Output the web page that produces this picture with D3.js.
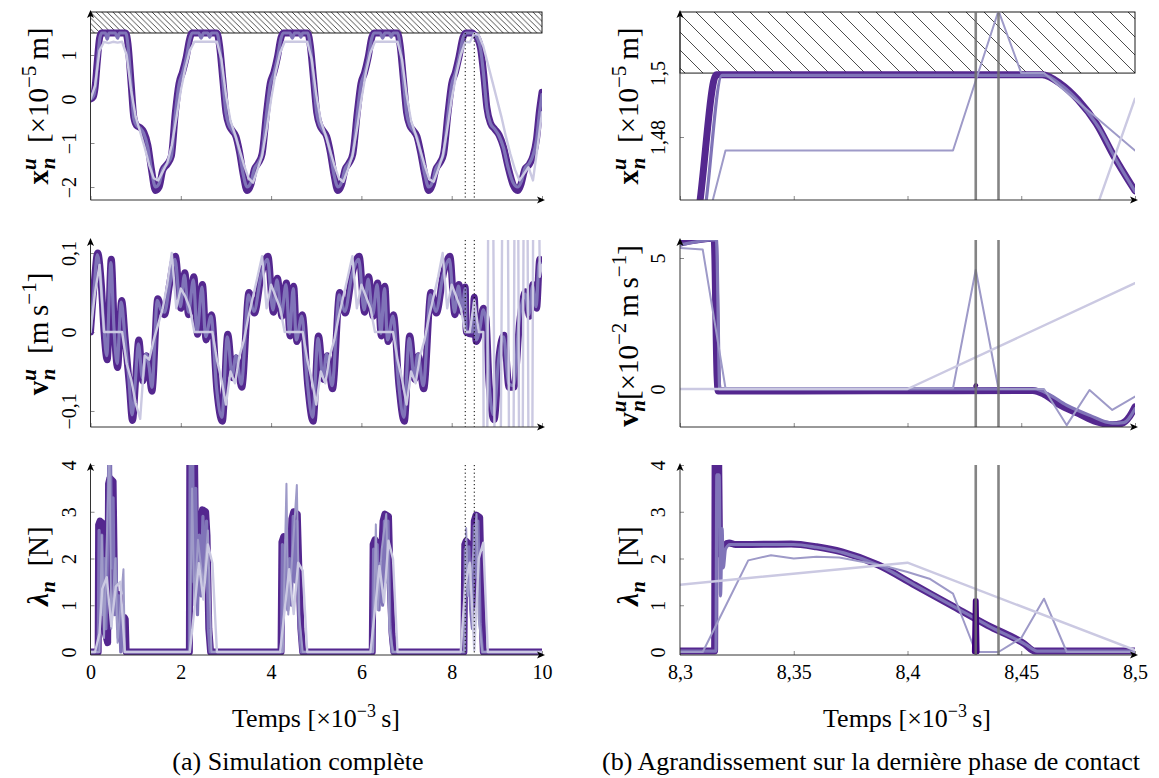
<!DOCTYPE html>
<html><head><meta charset="utf-8">
<script src="https://cdn.jsdelivr.net/npm/d3@7"></script>
<style>
body{margin:0;background:#fff}
svg{display:block}
text{font-family:"Liberation Serif","Times New Roman",serif;fill:#000}
</style>
</head><body>
<svg id="c" width="1159" height="778"></svg>
<script>
// ---------------- DATA ----------------
const ticksXLeft = [0, 2, 4, 6, 8, 10];
const ticksXRight = [8.3, 8.35, 8.4, 8.45, 8.5];
const ticksYDispL = [-2, -1, 0, 1];
const ticksYDispR = [1.48, 1.5];
const ticksYVelL = [-0.1, 0, 0.1];
const ticksYVelR = [0, 5];
const ticksYLam = [0, 1, 2, 3, 4];
const obstacleGap = 1.5;          // obstacle position (x 1e-5 m)
const zoomWindow = [8.3, 8.5];    // dotted lines on left
const stepMarks = [8.43, 8.44];   // grey lines on right

// Left: displacement (x1e-5 m)
const dispA = [[0,0],[0.06,0.05],[0.1,0.25],[0.15,0.85],[0.2,1.38],[0.24,1.5],[0.78,1.5],[0.83,1.25],[0.9,0.35],[0.96,-0.42],[1.02,-0.6],[1.1,-0.65],[1.18,-0.75],[1.27,-1.05],[1.35,-1.6],[1.44,-2.08],[1.52,-2.0],[1.6,-1.62],[1.7,-1.48],[1.79,-1.3],[1.88,-0.3],[1.96,0.35],[2.04,0.62],[2.12,0.95],[2.2,1.38],[2.25,1.5],
[2.8,1.5],[2.86,1.2],[2.93,0.45],[3.0,-0.3],[3.07,-0.6],[3.14,-0.72],[3.22,-0.85],[3.3,-1.2],[3.38,-1.7],[3.47,-2.08],[3.55,-1.95],[3.63,-1.6],[3.72,-1.45],[3.8,-1.25],[3.9,-0.3],[3.98,0.35],[4.06,0.6],[4.14,0.95],[4.22,1.4],[4.27,1.5],
[4.81,1.5],[4.87,1.2],[4.94,0.45],[5.01,-0.3],[5.08,-0.6],[5.15,-0.72],[5.23,-0.85],[5.31,-1.2],[5.39,-1.7],[5.48,-2.08],[5.56,-1.95],[5.64,-1.6],[5.73,-1.45],[5.81,-1.25],[5.91,-0.3],[5.99,0.35],[6.07,0.6],[6.15,0.95],[6.23,1.4],[6.28,1.5],
[6.8,1.5],[6.86,1.2],[6.93,0.45],[7.0,-0.3],[7.07,-0.6],[7.15,-0.72],[7.23,-0.85],[7.31,-1.2],[7.4,-1.7],[7.49,-2.08],[7.57,-1.95],[7.65,-1.6],[7.74,-1.45],[7.82,-1.25],[7.92,-0.3],[8.0,0.35],[8.08,0.6],[8.16,0.95],[8.25,1.4],[8.31,1.5],
[8.46,1.5],[8.5,1.465],[8.57,1.38],[8.64,1.15],[8.71,0.55],[8.78,-0.2],[8.86,-0.55],[8.95,-0.68],[9.05,-0.82],[9.15,-1.1],[9.25,-1.55],[9.36,-1.95],[9.46,-2.08],[9.54,-1.92],[9.62,-1.6],[9.72,-1.48],[9.8,-1.3],[9.88,-0.9],[9.94,-0.3],[10,0.15]];
const dispB = [[0,0],[0.07,0.08],[0.11,0.3],[0.16,0.9],[0.21,1.4],[0.25,1.5],[0.33,1.5],[0.37,1.36],[0.41,1.5],[0.55,1.5],[0.6,1.38],[0.64,1.5],[0.78,1.5],[0.83,1.22],[0.9,0.3],[0.96,-0.45],[1.02,-0.6],[1.1,-0.66],[1.18,-0.78],[1.27,-1.1],[1.35,-1.62],[1.44,-2.0],[1.52,-1.92],[1.6,-1.6],[1.7,-1.47],[1.79,-1.3],[1.88,-0.32],[1.96,0.33],[2.04,0.6],[2.12,0.93],[2.2,1.36],[2.25,1.5],
[2.4,1.5],[2.45,1.38],[2.5,1.5],[2.6,1.5],[2.64,1.4],[2.68,1.5],[2.8,1.5],[2.86,1.18],[2.93,0.42],[3.0,-0.32],[3.07,-0.6],[3.14,-0.72],[3.22,-0.87],[3.3,-1.22],[3.38,-1.7],[3.47,-2.0],[3.55,-1.9],[3.63,-1.58],[3.72,-1.44],[3.8,-1.24],[3.9,-0.32],[3.98,0.33],[4.06,0.58],[4.14,0.93],[4.22,1.38],[4.27,1.5],
[4.42,1.5],[4.47,1.38],[4.52,1.5],[4.62,1.5],[4.66,1.4],[4.7,1.5],[4.81,1.5],[4.87,1.18],[4.94,0.42],[5.01,-0.32],[5.08,-0.6],[5.15,-0.72],[5.23,-0.87],[5.31,-1.22],[5.39,-1.7],[5.48,-2.0],[5.56,-1.9],[5.64,-1.58],[5.73,-1.44],[5.81,-1.24],[5.91,-0.32],[5.99,0.33],[6.07,0.58],[6.15,0.93],[6.23,1.38],[6.28,1.5],
[6.42,1.5],[6.47,1.38],[6.52,1.5],[6.62,1.5],[6.66,1.4],[6.7,1.5],[6.8,1.5],[6.86,1.18],[6.93,0.42],[7.0,-0.32],[7.07,-0.6],[7.15,-0.72],[7.23,-0.87],[7.31,-1.22],[7.4,-1.7],[7.49,-2.0],[7.57,-1.9],[7.65,-1.58],[7.74,-1.44],[7.82,-1.24],[7.92,-0.32],[8.0,0.33],[8.08,0.58],[8.16,0.93],[8.25,1.38],[8.31,1.5],
[8.46,1.5],[8.5,1.46],[8.57,1.37],[8.64,1.13],[8.71,0.52],[8.78,-0.22],[8.86,-0.56],[8.95,-0.68],[9.05,-0.84],[9.15,-1.12],[9.25,-1.56],[9.36,-1.9],[9.46,-2.0],[9.54,-1.88],[9.62,-1.58],[9.72,-1.46],[9.8,-1.28],[9.88,-0.92],[9.94,-0.35],[10,0.1]];
const dispD = [[0,0],[0.1,0.3],[0.2,1.1],[0.3,1.3],[0.4,1.27],[0.5,1.3],[0.6,1.28],[0.7,1.3],[0.8,1.0],[0.9,0.2],[1.0,-0.4],[1.1,-0.75],[1.2,-1.1],[1.3,-1.5],[1.4,-1.8],[1.5,-1.85],[1.6,-1.65],[1.7,-1.45],[1.8,-1.05],[1.9,-0.45],[2.0,0.2],[2.1,0.7],[2.2,1.1],[2.3,1.3],[2.8,1.3],[2.9,0.9],[3.0,0.1],[3.1,-0.5],[3.2,-0.8],[3.3,-1.15],[3.4,-1.5],[3.5,-1.8],[3.6,-1.9],[3.7,-1.6],[3.8,-1.3],[3.9,-0.7],[4.0,0.0],[4.1,0.6],[4.2,1.05],[4.3,1.3],[4.8,1.3],[4.9,0.9],[5.0,0.1],[5.1,-0.5],[5.2,-0.8],[5.3,-1.15],[5.4,-1.5],[5.5,-1.8],[5.6,-1.88],[5.7,-1.6],[5.8,-1.3],[5.9,-0.7],[6.0,0.0],[6.1,0.6],[6.2,1.05],[6.3,1.3],[6.8,1.3],[6.9,0.9],[7.0,0.1],[7.1,-0.5],[7.2,-0.8],[7.3,-1.15],[7.4,-1.5],[7.5,-1.82],[7.6,-1.88],[7.7,-1.6],[7.8,-1.3],[7.9,-0.7],[8.0,0.0],[8.1,0.55],[8.2,1.0],[8.3,1.3],[8.4,1.29],[8.5,1.49],[8.6,1.45],[8.7,1.2],[8.8,0.8],[8.9,0.4],[9.0,0.0],[9.1,-0.4],[9.2,-0.85],[9.3,-1.25],[9.4,-1.6],[9.5,-1.85],[9.6,-1.7],[9.7,-1.55],[9.8,-1.85],[9.9,-1.1],[10,-0.3]];

// Left: velocity (m/s)
const velA = [[0,0],[0.08,0.06],[0.16,0.1],[0.24,0.06],[0.3,0.0],[0.37,-0.035],[0.46,0.092],[0.53,0.0],[0.6,-0.045],[0.69,0.04],[0.77,-0.01],[0.86,-0.067],[0.93,-0.112],[1.0,-0.06],[1.07,-0.01],[1.16,-0.062],[1.24,-0.03],[1.3,-0.05],[1.36,-0.075],[1.49,0.042],[1.56,0.03],[1.64,0.022],[1.75,0.06],[1.88,0.096],
[2.0,0.03],[2.09,0.075],[2.17,0.022],[2.29,0.07],[2.37,-0.003],[2.48,0.06],[2.56,-0.01],[2.68,0.022],[2.8,-0.075],[2.92,-0.113],[3.04,-0.003],[3.15,-0.058],[3.23,-0.033],[3.35,-0.07],[3.51,0.05],[3.63,0.024],[3.79,0.075],[3.93,0.096],
[4.05,0.025],[4.14,0.068],[4.24,0.02],[4.34,0.062],[4.42,-0.005],[4.5,0.058],[4.57,-0.012],[4.69,0.022],[4.81,-0.067],[4.93,-0.113],[5.05,-0.005],[5.16,-0.06],[5.24,-0.03],[5.36,-0.072],[5.52,0.05],[5.64,0.024],[5.8,0.075],[5.95,0.096],
[6.07,0.025],[6.16,0.07],[6.26,0.02],[6.36,0.062],[6.44,-0.005],[6.52,0.058],[6.59,-0.012],[6.71,0.022],[6.83,-0.067],[6.95,-0.113],[7.07,-0.005],[7.18,-0.06],[7.26,-0.03],[7.38,-0.072],[7.54,0.05],[7.66,0.024],[7.82,0.075],[7.96,0.096],
[8.07,0.022],[8.16,0.06],[8.24,0.025],[8.3,0.057],[8.32,0.0],[8.46,-0.003],[8.5,0.044],[8.54,-0.012],[8.62,0.0],[8.7,0.03],[8.76,0.017],[8.83,-0.067],[8.94,-0.111],[9.05,-0.03],[9.16,-0.004],[9.27,-0.07],[9.38,-0.07],[9.5,0.01],[9.64,0.051],[9.72,0.02],[9.8,0.06],[9.88,0.03],[9.95,0.092],[10,0.085]];
const velB = [[0,0],[0.08,0.055],[0.15,0.098],[0.22,0.07],[0.29,0.01],[0.36,-0.03],[0.45,0.088],[0.52,0.005],[0.59,-0.04],[0.68,0.038],[0.76,-0.005],[0.85,-0.06],[0.92,-0.105],[0.99,-0.065],[1.06,-0.015],[1.15,-0.058],[1.23,-0.028],[1.3,-0.045],[1.36,-0.07],[1.48,0.04],[1.56,0.028],[1.64,0.025],[1.75,0.058],[1.87,0.092],
[1.99,0.032],[2.08,0.072],[2.17,0.025],[2.28,0.066],[2.36,0.0],[2.47,0.057],[2.55,-0.006],[2.67,0.02],[2.79,-0.07],[2.91,-0.108],[3.03,-0.006],[3.14,-0.055],[3.22,-0.03],[3.34,-0.066],[3.5,0.047],[3.62,0.026],[3.78,0.072],[3.92,0.092],
[4.04,0.028],[4.13,0.066],[4.23,0.022],[4.33,0.06],[4.41,-0.002],[4.49,0.055],[4.56,-0.01],[4.68,0.02],[4.8,-0.063],[4.92,-0.108],[5.04,-0.008],[5.15,-0.057],[5.23,-0.028],[5.35,-0.068],[5.51,0.047],[5.63,0.026],[5.79,0.072],[5.94,0.092],
[6.06,0.028],[6.15,0.067],[6.25,0.022],[6.35,0.06],[6.43,-0.002],[6.51,0.055],[6.58,-0.01],[6.7,0.02],[6.82,-0.063],[6.94,-0.108],[7.06,-0.008],[7.17,-0.057],[7.25,-0.028],[7.37,-0.068],[7.53,0.047],[7.65,0.026],[7.81,0.072],[7.95,0.092],
[8.06,0.025],[8.15,0.058],[8.23,0.028],[8.3,0.055],[8.32,0.0],[8.46,0.0],[8.5,0.04],[8.54,-0.01],[8.62,0.003],[8.7,0.028],[8.77,0.01],[8.84,-0.075],[8.93,-0.105],[9.04,-0.035],[9.15,-0.006],[9.26,-0.065],[9.37,-0.068],[9.49,0.012],[9.63,0.048],[9.71,0.022],[9.79,0.058],[9.87,0.032],[9.94,0.088],[10,0.083]];
const velD = [[0,0],[0.1,0.05],[0.2,0.085],[0.3,0.0],[0.4,0.0],[0.5,0.0],[0.6,0.0],[0.7,0.0],[0.8,-0.04],[0.9,-0.06],[1.0,-0.09],[1.1,-0.11],[1.2,-0.03],[1.3,-0.035],[1.4,-0.01],[1.5,0.01],[1.6,0.03],[1.7,0.06],[1.8,0.1],[1.9,0.03],[2.0,0.055],[2.1,0.045],[2.2,0.03],[2.3,0.0],[2.7,0.0],[2.8,-0.035],[2.9,-0.06],[3.0,-0.092],[3.1,-0.05],[3.2,-0.065],[3.3,-0.03],[3.4,-0.01],[3.5,0.02],[3.6,0.045],[3.7,0.07],[3.8,0.096],[3.9,0.03],[4.0,0.06],[4.1,0.045],[4.2,0.03],[4.3,0.0],[4.7,0.0],[4.8,-0.035],[4.9,-0.06],[5.0,-0.092],[5.1,-0.05],[5.2,-0.065],[5.3,-0.03],[5.4,-0.01],[5.5,0.02],[5.6,0.045],[5.7,0.07],[5.8,0.096],[5.9,0.03],[6.0,0.06],[6.1,0.045],[6.2,0.03],[6.3,0.0],[6.7,0.0],[6.8,-0.035],[6.9,-0.06],[7.0,-0.092],[7.1,-0.05],[7.2,-0.065],[7.3,-0.03],[7.4,-0.01],[7.5,0.02],[7.6,0.045],[7.7,0.07],[7.8,0.1],[7.9,0.03],[8.0,0.06],[8.1,0.045],[8.2,0.03],[8.3,0.0],[8.4,0.0],[8.5,0.04],[8.6,0.0],[8.7,0.0],[8.74,-0.8],[8.855,0.8],[9.015,-0.8],[9.19,0.8],[9.325,-0.8],[9.435,0.8],[9.53,-0.8],[9.635,0.8],[9.745,-0.8],[9.845,0.8],[9.95,0.07],[10,0.085]];

// Left: contact force (N)
const lamA = [[0,0],[0.17,0],[0.18,2.72],[0.21,2.8],[0.27,2.75],[0.3,1.3],[0.33,0.4],[0.38,0.2],[0.4,3.6],[0.43,3.72],[0.5,3.65],[0.53,1.5],[0.56,1.1],[0.6,1.24],[0.64,1.2],[0.66,0.3],[0.72,0.2],[0.75,0.74],[0.77,0.7],[0.79,0],
[2.19,0],[2.2,4.5],[2.3,4.5],[2.33,2.0],[2.4,1.5],[2.45,2.9],[2.48,3.04],[2.55,3.0],[2.58,2.5],[2.62,0.5],[2.66,0],
[4.22,0],[4.24,2.35],[4.28,2.47],[4.34,2.4],[4.38,1.6],[4.42,1.8],[4.46,2.85],[4.5,3.0],[4.58,2.95],[4.62,1.6],[4.66,0.5],[4.7,0],
[6.24,0],[6.26,2.3],[6.3,2.4],[6.36,2.3],[6.4,1.7],[6.44,1.9],[6.48,2.8],[6.52,2.95],[6.6,2.9],[6.64,1.4],[6.68,0.4],[6.72,0],
[8.27,0],[8.29,2.3],[8.32,2.37],[8.38,2.3],[8.43,1.7],[8.47,1.0],[8.5,2.8],[8.54,2.93],[8.62,2.88],[8.66,1.2],[8.7,0],[10,0]];
const lamB = [[0,0],[0.17,0],[0.19,2.6],[0.22,1.5],[0.25,2.5],[0.28,0.8],[0.31,2.0],[0.34,0.5],[0.37,1.8],[0.41,4.5],[0.44,4.5],[0.47,1.8],[0.5,3.3],[0.53,0.8],[0.56,2.0],[0.6,0.5],[0.63,1.2],[0.67,0],[0.71,1.0],[0.75,0],
[2.19,0],[2.21,4.5],[2.26,4.5],[2.29,1.5],[2.33,3.5],[2.37,0.8],[2.41,2.5],[2.45,1.2],[2.49,2.9],[2.53,1.5],[2.57,2.8],[2.61,0.5],[2.65,0],
[4.23,0],[4.25,2.3],[4.29,1.2],[4.33,2.4],[4.37,0.9],[4.41,2.0],[4.45,1.0],[4.49,2.9],[4.53,1.5],[4.57,2.8],[4.62,0.6],[4.67,0],
[6.25,0],[6.27,2.2],[6.31,1.2],[6.35,2.3],[6.39,0.9],[6.43,1.9],[6.47,1.0],[6.51,2.8],[6.55,1.5],[6.59,2.8],[6.63,0.6],[6.68,0],
[8.28,0],[8.3,2.2],[8.34,1.3],[8.38,2.25],[8.42,0.9],[8.46,0.5],[8.5,2.7],[8.54,1.6],[8.58,2.8],[8.63,0.6],[8.68,0],[10,0]];
const lamC = [[0,0],[0.2,0],[0.25,2.5],[0.3,0.3],[0.42,4.4],[0.46,0.5],[0.55,2.0],[0.6,0.2],[0.73,1.77],[0.76,0],
[2.2,0],[2.25,3.5],[2.3,1.0],[2.38,2.4],[2.5,1.4],[2.6,2.6],[2.68,0],
[4.26,0],[4.34,3.6],[4.38,0.8],[4.48,2.2],[4.57,3.57],[4.62,0.8],[4.7,0],
[6.26,0],[6.32,2.73],[6.36,0.9],[6.45,2.2],[6.55,2.95],[6.62,0.5],[6.7,0],
[8.28,0],[8.32,2.65],[8.36,1.2],[8.45,1.8],[8.55,2.95],[8.6,0.7],[8.68,0],[10,0]];
const lamD = [[0,0],[0.1,0],[0.2,0.4],[0.26,1.35],[0.36,1.6],[0.46,0.55],[0.56,1.4],[0.66,1.5],[0.76,0],
[2.2,0],[2.3,0.9],[2.4,1.9],[2.5,1.12],[2.6,2.3],[2.7,1.9],[2.8,0],
[4.2,0],[4.3,0.9],[4.4,1.77],[4.5,0.81],[4.6,1.91],[4.7,1.74],[4.8,0],
[6.2,0],[6.3,0.9],[6.4,1.84],[6.5,1.06],[6.6,2.38],[6.7,1.99],[6.8,0],
[8.2,0],[8.3,1.44],[8.4,1.91],[8.5,0.04],[8.6,2.0],[8.7,2.34],[8.8,0],[10,0]];

// Right (zoom 8.3 - 8.5 ms): displacement (x1e-5 m)
const zDispA = [[8.3,1.411],[8.3088,1.46],[8.316,1.4995],[8.4592,1.4995],[8.467,1.4968],[8.475,1.4916],[8.483,1.4842],[8.491,1.4737],[8.5,1.4632]];
const zDispB = [[8.3,1.40],[8.3115,1.46],[8.3184,1.4993],[8.46,1.4993],[8.468,1.496],[8.476,1.4905],[8.484,1.483],[8.492,1.4725],[8.5,1.463]];
const zDispC = [[8.3,1.42],[8.31,1.448],[8.32,1.4758],[8.42,1.4758],[8.44,1.5195],[8.45,1.5],[8.46,1.5],[8.5,1.4758]];
const zDispD = [[8.4,1.29],[8.5,1.492]];
// Right: velocity (x1e-2 m/s)
const zVelA = [[8.3,5.57],[8.315,5.75],[8.3163,0.5],[8.3168,-0.08],[8.455,-0.06],[8.46,-0.2],[8.467,-0.61],[8.475,-0.93],[8.483,-1.25],[8.49,-1.36],[8.494,-1.32],[8.4976,-1.05],[8.5,-0.68]];
const zVelB = [[8.3,5.5],[8.316,5.7],[8.3175,0.0],[8.456,0.0],[8.462,-0.2],[8.47,-0.62],[8.48,-1.0],[8.49,-1.3],[8.495,-1.28],[8.5,-0.75]];
const zVelC = [[8.3,5.38],[8.31,5.32],[8.32,0.03],[8.42,0.03],[8.43,4.55],[8.44,0.0],[8.45,0.0],[8.46,0.0],[8.47,-1.38],[8.48,-0.04],[8.49,-0.8],[8.5,-0.29]];
const zVelD = [[8.3,0],[8.4,0],[8.5,4.04]];
const zVelE = [[8.4299,0.12],[8.4301,0.14]];
// Right: contact force (N)
const zLamA = [[8.3,0.02],[8.3152,0.02],[8.3155,4.6],[8.3168,4.6],[8.3175,2.1],[8.3195,2.28],[8.3216,2.33],[8.3245,2.3],[8.33,2.3],[8.3488,2.31],[8.36,2.25],[8.3712,2.14],[8.3872,1.86],[8.4032,1.43],[8.4192,1.0],[8.4352,0.57],[8.4512,0.18],[8.456,0.02],[8.5,0.02]];
const zLamB = [[8.3,0.02],[8.3158,0.02],[8.3162,3.79],[8.3172,3.79],[8.3178,1.2],[8.3185,2.64],[8.319,1.8],[8.32,2.2],[8.322,2.3],[8.33,2.3],[8.35,2.3],[8.36,2.24],[8.372,2.12],[8.388,1.84],[8.404,1.41],[8.42,0.98],[8.436,0.55],[8.452,0.16],[8.457,0.02],[8.5,0.02]];
const zLamC = [[8.3,0],[8.31,0],[8.32,0.98],[8.33,1.96],[8.34,2.07],[8.35,2.0],[8.36,2.04],[8.37,2.02],[8.38,1.93],[8.39,1.84],[8.4,1.71],[8.41,1.56],[8.42,1.25],[8.43,0],[8.44,0],[8.45,0.3],[8.46,1.14],[8.47,0],[8.5,0]];
const zLamD = [[8.3,1.44],[8.4,1.91],[8.5,0.04]];
const zLamE = [[8.4293,0],[8.4297,1.1],[8.4303,1.1],[8.4307,0]];

// ---------------- STYLE ----------------
const COL = {A:"#54278f", B:"#8074b8", C:"#9e9ac8", D:"#cbc9e2", E:"#3f007d"};
const WID = {A:7, B:3.2, C:2, D:2.4, E:4.5};

// ---------------- DRAW ----------------
const svg = d3.select("#c");
const defs = svg.append("defs");
const fmt = d3.formatLocale({decimal:",", thousands:"\u00a0", grouping:[3], currency:["",""], minus:"\u2212"}).format("~g");

function hatch(id, s){
  const p = defs.append("pattern").attr("id",id).attr("patternUnits","userSpaceOnUse").attr("width",s).attr("height",s);
  p.append("path").attr("d",`M-1,-1L${s+1},${s+1}`).attr("stroke","#000").attr("stroke-width",0.7);
}
hatch("hatchL", 5.6);
hatch("hatchR", 18);

const xL = d3.scaleLinear().domain([0,10]).range([90.5,542]);
const xR = d3.scaleLinear().domain([8.3,8.5]).range([680,1135]);
const rows = [{top:12,bot:200},{top:240,bot:427},{top:465,bot:655}];
const yL0 = d3.scaleLinear().domain([-2.295,1.977]).range([200,12]);
const yR0 = d3.scaleLinear().domain([1.4603,1.5191]).range([200,12]);
const yL1 = d3.scaleLinear().domain([-0.1203,0.1165]).range([427,240]);
const yR1 = d3.scaleLinear().domain([-1.45,5.687]).range([427,240]);
const yL2 = d3.scaleLinear().domain([-0.064,4]).range([655,465]);
const yR2 = yL2.copy();

let clipN = 0;
function panel(o){
  const x=o.x, y=o.y, top=o.row.top, bot=o.row.bot;
  const x0=x.range()[0], x1=x.range()[1];
  const g = svg.append("g");
  const cid = "clip"+(clipN++);
  defs.append("clipPath").attr("id",cid).append("rect").attr("x",x0).attr("y",top).attr("width",x1-x0).attr("height",bot-top);
  if(o.hatch){
    g.append("rect").attr("x",x0).attr("y",top).attr("width",x1-x0).attr("height",y(obstacleGap)-top)
     .attr("fill",`url(#${o.hatch})`).attr("stroke","#000").attr("stroke-width",0.9);
  }
  const ax = g.append("g").attr("transform",`translate(0,${bot})`)
    .call(d3.axisBottom(x).tickValues(o.xticks).tickSizeInner(-4).tickSizeOuter(0).tickFormat(o.showX?fmt:()=>""));
  ax.select(".domain").remove();
  ax.selectAll("line").attr("stroke","#8a8a8a");
  ax.attr("font-family",null).attr("font-size",null);
  ax.selectAll("text").attr("y",10).attr("dy","0.72em").attr("font-size",20);
  const ay = g.append("g").attr("transform",`translate(${x0},0)`)
    .call(d3.axisLeft(y).tickValues(o.yticks).tickSizeInner(-4).tickSizeOuter(0).tickFormat(fmt));
  ay.select(".domain").remove();
  ay.selectAll("line").attr("stroke","#8a8a8a");
  ay.attr("font-family",null).attr("font-size",null);
  ay.selectAll("text").attr("x",null).attr("dy",null).attr("y",null)
    .attr("transform","translate(-15,0) rotate(-90)").attr("text-anchor","middle").attr("font-size",20);
  const lg = g.append("g").attr("clip-path",`url(#${cid})`);
  o.series.forEach(s=>{
    lg.append("path").datum(s.data)
      .attr("d", d3.line().x(d=>x(d[0])).y(d=>y(d[1])).curve(s.curve||d3.curveLinear))
      .attr("fill","none").attr("stroke",COL[s.k]).attr("stroke-width",WID[s.k])
      .attr("stroke-linejoin","round").attr("stroke-linecap","round");
  });
  (o.dotted||[]).forEach(t=>{
    g.append("line").attr("x1",x(t)).attr("x2",x(t)).attr("y1",o.hatch?y(obstacleGap):top).attr("y2",bot)
      .attr("stroke","#000").attr("stroke-width",1).attr("stroke-dasharray","1.2,2.6");
  });
  (o.grey||[]).forEach(t=>{
    g.append("line").attr("x1",x(t)).attr("x2",x(t)).attr("y1",top).attr("y2",bot)
      .attr("stroke","#6e6e6e").attr("stroke-opacity",0.85).attr("stroke-width",2.6);
  });
  g.append("line").attr("x1",x0).attr("x2",x1).attr("y1",bot).attr("y2",bot).attr("stroke","#333").attr("stroke-width",1);
  g.append("line").attr("x1",x0).attr("x2",x0).attr("y1",bot).attr("y2",top).attr("stroke","#333").attr("stroke-width",1);
  g.append("path").attr("d",`M${x1+3},${bot}L${x1-5},${bot-3.5}L${x1-3},${bot}L${x1-5},${bot+3.5}Z`).attr("fill","#000");
  g.append("path").attr("d",`M${x0},${top-2}L${x0-3.5},${top+6}L${x0},${top+4}L${x0+3.5},${top+6}Z`).attr("fill","#000");
}

const left = [
  {row:rows[0], y:yL0, yticks:ticksYDispL, hatch:"hatchL", series:[{k:"A",data:dispA,curve:d3.curveMonotoneX},{k:"B",data:dispB,curve:d3.curveMonotoneX},{k:"D",data:dispD}]},
  {row:rows[1], y:yL1, yticks:ticksYVelL, series:[{k:"A",data:velA,curve:d3.curveMonotoneX},{k:"B",data:velB,curve:d3.curveMonotoneX},{k:"D",data:velD}]},
  {row:rows[2], y:yL2, yticks:ticksYLam, showX:true, series:[{k:"A",data:lamA},{k:"B",data:lamB},{k:"C",data:lamC},{k:"D",data:lamD}]}
];
left.forEach(o=>panel(Object.assign({x:xL, xticks:ticksXLeft, dotted:zoomWindow}, o)));

const right = [
  {row:rows[0], y:yR0, yticks:ticksYDispR, hatch:"hatchR", series:[{k:"A",data:zDispA,curve:d3.curveMonotoneX},{k:"B",data:zDispB,curve:d3.curveMonotoneX},{k:"C",data:zDispC},{k:"D",data:zDispD}]},
  {row:rows[1], y:yR1, yticks:ticksYVelR, series:[{k:"A",data:zVelA,curve:d3.curveMonotoneX},{k:"B",data:zVelB,curve:d3.curveMonotoneX},{k:"C",data:zVelC},{k:"D",data:zVelD},{k:"E",data:zVelE}]},
  {row:rows[2], y:yR2, yticks:ticksYLam, showX:true, series:[{k:"A",data:zLamA,curve:d3.curveMonotoneX},{k:"B",data:zLamB,curve:d3.curveMonotoneX},{k:"C",data:zLamC},{k:"D",data:zLamD},{k:"E",data:zLamE}]}
];
right.forEach(o=>panel(Object.assign({x:xR, xticks:ticksXRight, grey:stepMarks}, o)));

// -------- titles --------
function addParts(t, parts){
  parts.forEach(p=>{
    const s = t.append("tspan").text(p.t);
    if(p.b) s.attr("font-weight","bold");
    if(p.i) s.attr("font-style","italic");
    if(p.fs) s.attr("font-size",p.fs);
    if(p.dx!=null) s.attr("dx",p.dx);
    if(p.dy!=null) s.attr("dy",p.dy);
  });
}
function rtext(cx, cy, parts, size){
  const t = svg.append("text").attr("transform",`translate(${cx},${cy}) rotate(-90)`).attr("text-anchor","middle").attr("font-size",size);
  addParts(t, parts); return t;
}
function htext(cx, cy, parts, size){
  const t = svg.append("text").attr("x",cx).attr("y",cy).attr("text-anchor","middle").attr("font-size",size);
  addParts(t, parts); return t;
}
const xTitle = [{t:"x",b:1},{t:"u",b:1,i:1,fs:21,dy:-12},{t:"n",b:1,i:1,fs:21,dx:-11,dy:19},{t:"\u2002[\u00d710",dy:-7},{t:"\u22125",fs:21,dy:-12},{t:"\u2009m]",dy:12}];
const vTitleL = [{t:"v",b:1},{t:"u",b:1,i:1,fs:21,dy:-12},{t:"n",b:1,i:1,fs:21,dx:-11,dy:19},{t:"\u2002[m\u2009s",dy:-7},{t:"\u22121",fs:21,dy:-12},{t:"]",dy:12}];
const vTitleR = [{t:"v",b:1},{t:"u",b:1,i:1,fs:21,dy:-12},{t:"n",b:1,i:1,fs:21,dx:-11,dy:19},{t:"[\u00d710",dy:-7},{t:"\u22122",fs:21,dy:-12},{t:"\u2009m\u2009s",dy:12},{t:"\u22121",fs:21,dy:-12},{t:"]",dy:12}];
const lTitle = [{t:"\u03bb",b:1,i:1},{t:"n",b:1,i:1,fs:21,dy:7},{t:"\u2002[N]",dy:-7}];
rtext(48,106,xTitle,29); rtext(638,106,xTitle,29);
rtext(48,334,vTitleL,29); rtext(638,336,vTitleR,29);
rtext(48,566,lTitle,29); rtext(638,566,lTitle,29);

const tTitle = [{t:"Temps [\u00d710"},{t:"\u22123",fs:18,dy:-10},{t:"\u2009s]",dy:10}];
htext(316,727,tTitle,26); htext(907,727,tTitle,26);
htext(298,770,[{t:"(a) Simulation complète"}],26);
htext(871,770,[{t:"(b) Agrandissement sur la dernière phase de contact"}],26);
</script>
</body></html>
